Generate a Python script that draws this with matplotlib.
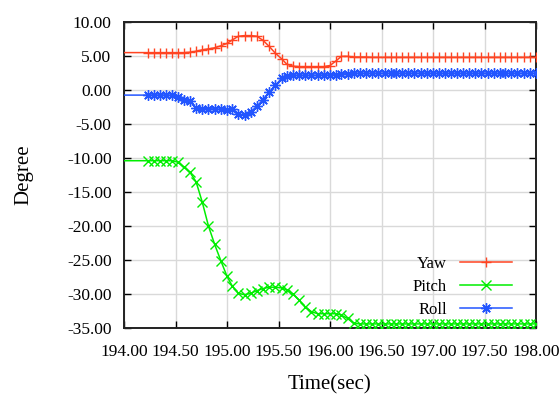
import matplotlib
matplotlib.use("Agg")
import matplotlib.pyplot as plt
from matplotlib.lines import Line2D

plt.rcParams['font.family'] = ['Liberation Serif', 'DejaVu Serif']

# time stamps (sec) of the samples
time = [194.23, 194.29, 194.35, 194.41, 194.47, 194.52, 194.58, 194.64, 194.70, 194.76,
        194.82, 194.88, 194.94, 195.00, 195.05, 195.11, 195.17, 195.23, 195.29, 195.35,
        195.41, 195.47, 195.53, 195.58, 195.64, 195.70, 195.76, 195.82, 195.88, 195.94,
        196.00, 196.06, 196.11, 196.17, 196.23, 196.29, 196.35, 196.41, 196.47, 196.53,
        196.59, 196.64, 196.70, 196.76, 196.82, 196.88, 196.94, 197.00, 197.06, 197.12,
        197.17, 197.23, 197.29, 197.35, 197.41, 197.47, 197.53, 197.59, 197.65, 197.70,
        197.76, 197.82, 197.88, 197.94, 198.00]

yaw = [5.5, 5.5, 5.5, 5.5, 5.5, 5.5, 5.5, 5.55, 5.7, 5.9,
       6.05, 6.2, 6.5, 6.85, 7.35, 7.9, 8.0, 8.0, 7.9, 7.3,
       6.4, 5.4, 4.6, 3.8, 3.5, 3.45, 3.45, 3.45, 3.45, 3.45,
       3.6, 4.3, 4.95, 4.95, 4.85, 4.85, 4.85, 4.8, 4.8, 4.8,
       4.8, 4.8, 4.8, 4.8, 4.8, 4.8, 4.8, 4.8, 4.8, 4.8,
       4.8, 4.8, 4.8, 4.8, 4.8, 4.8, 4.8, 4.8, 4.8, 4.8,
       4.8, 4.8, 4.8, 4.8, 4.8]

pitch = [-10.4, -10.4, -10.4, -10.4, -10.4, -10.6, -11.3, -12.1, -13.5, -16.5,
         -20.0, -22.7, -25.1, -27.4, -28.8, -29.9, -30.1, -29.9, -29.5, -29.2,
         -29.0, -29.0, -29.1, -29.4, -30.0, -30.9, -31.9, -32.6, -32.9, -32.9,
         -32.9, -32.9, -33.1, -33.6, -34.3, -34.4, -34.4, -34.4, -34.4, -34.4,
         -34.4, -34.4, -34.4, -34.4, -34.4, -34.4, -34.4, -34.4, -34.4, -34.4,
         -34.4, -34.4, -34.4, -34.4, -34.4, -34.4, -34.4, -34.4, -34.4, -34.4,
         -34.4, -34.4, -34.4, -34.4, -34.4]

roll = [-0.75, -0.75, -0.75, -0.75, -0.8, -1.07, -1.5, -1.65, -2.7, -2.75,
        -2.75, -2.8, -2.85, -2.9, -2.85, -3.5, -3.7, -3.2, -2.4, -1.4,
        -0.3, 0.7, 1.7, 2.1, 2.15, 2.15, 2.15, 2.15, 2.15, 2.2,
        2.2, 2.25, 2.35, 2.4, 2.45, 2.45, 2.45, 2.45, 2.45, 2.45,
        2.45, 2.45, 2.45, 2.45, 2.45, 2.45, 2.45, 2.45, 2.45, 2.45,
        2.45, 2.45, 2.45, 2.45, 2.45, 2.45, 2.45, 2.45, 2.45, 2.45,
        2.45, 2.45, 2.45, 2.45, 2.45]

# leading sample before the visible window (line enters from the left edge)
t_pre = 193.9

x_ticks = [194.0, 194.5, 195.0, 195.5, 196.0, 196.5, 197.0, 197.5, 198.0]
y_ticks = [10, 5, 0, -5, -10, -15, -20, -25, -30, -35]

fig = plt.figure(figsize=(5.6, 3.98), dpi=100)
ax = fig.add_axes([124/560, 1-328/398, (536-124)/560, (328-22)/398])

series = [
    ("Yaw", yaw, '#ff4422', '+'),
    ("Pitch", pitch, '#00ee00', 'x'),
    ("Roll", roll, '#2255ff', (8, 2, 0)),
]
for name, vals, col, mk in series:
    xs = [t_pre] + time
    ys = [vals[0]] + vals
    ax.plot(xs, ys, color=col, lw=1.1, marker=mk, markersize=7.5, mew=1.0,
            markevery=list(range(1, len(xs))), clip_on=True, zorder=3)

ax.set_xlim(194, 198)
ax.set_ylim(-35, 10)
ax.set_xticks(x_ticks)
ax.set_xticklabels([f"{v:.2f}" for v in x_ticks])
ax.set_yticks(y_ticks)
ax.set_yticklabels([f"{v:.2f}" for v in y_ticks])
ax.grid(True, color='#d9d9d9', lw=1.0, zorder=0)
ax.set_axisbelow(True)
ax.tick_params(axis='both', direction='in', length=5, width=1, top=True, right=True,
               labelsize=12.5, colors='black')
ax.tick_params(axis='x', pad=11.5)
ax.tick_params(axis='y', pad=9)
for sp in ax.spines.values():
    sp.set_linewidth(1.4)
    sp.set_color('#222222')

ax.set_xlabel("Time(sec)", fontsize=15, labelpad=11)
ax.set_ylabel("Degree", fontsize=15, labelpad=24)

leg_handles = []
for name, vals, col, mk in series:
    leg_handles.append(Line2D([], [], color=col, lw=1.1, marker=mk,
                              markersize=7.5, mew=1.0))
leg = ax.legend(leg_handles, [s[0] for s in series], loc='lower right',
                bbox_to_anchor=(0.958, 0.012), frameon=False, markerfirst=False,
                fontsize=12, handlelength=3.1, labelspacing=0.42, handletextpad=0.8,
                numpoints=1, borderaxespad=0.0)

fig.savefig("out.png", dpi=100)
